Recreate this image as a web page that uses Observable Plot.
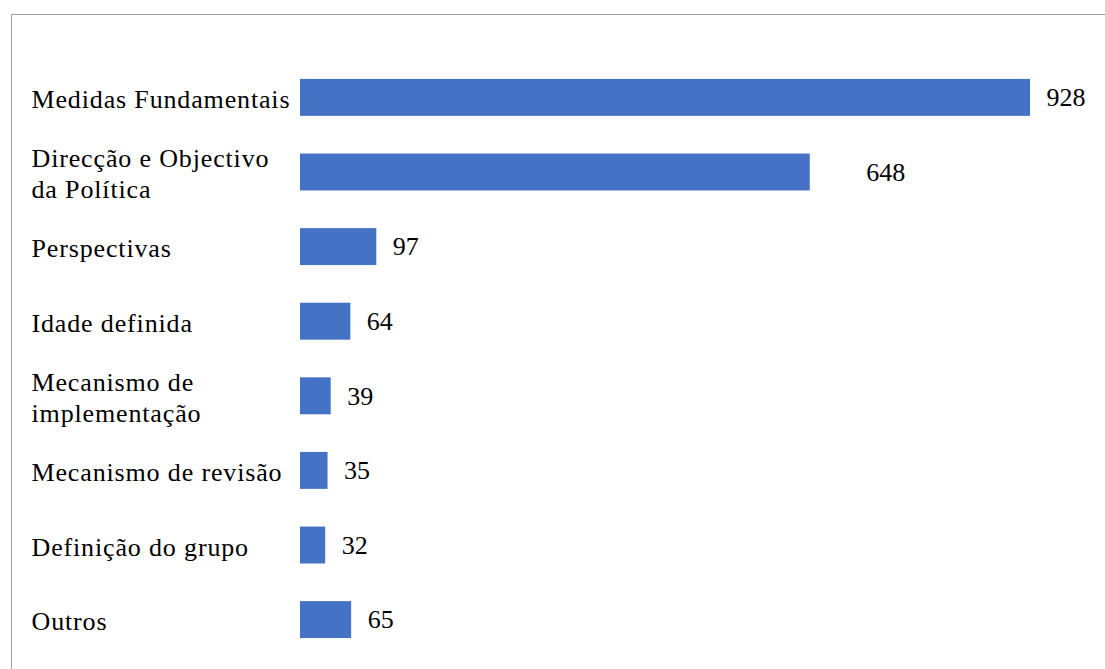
<!DOCTYPE html>
<html>
<head>
<meta charset="utf-8">
<script src="https://cdn.jsdelivr.net/npm/d3@7"></script>
<script src="https://cdn.jsdelivr.net/npm/@observablehq/plot@0.6"></script>
<style>
  html, body { margin: 0; padding: 0; background: #fff; }
  #wrap { position: relative; width: 1105px; height: 669px; overflow: hidden; }
  #frame { position: absolute; left: 11px; top: 14px; width: 1200px; height: 800px;
           border-left: 1px solid #a3a3a3; border-top: 1px solid #a3a3a3; }
  #chart { position: absolute; left: 0; top: 0; }
  #chart svg, #chart text { font-family: "Liberation Serif", "Times New Roman", serif !important; }
</style>
</head>
<body>
<div id="wrap"><div id="frame"></div><div id="chart"></div></div>
<script>
const categories = [
  "Medidas Fundamentais",
  "Direcção e Objectivo\nda Política",
  "Perspectivas",
  "Idade definida",
  "Mecanismo de\nimplementação",
  "Mecanismo de revisão",
  "Definição do grupo",
  "Outros"
];
const values = [928, 648, 97, 64, 39, 35, 32, 65];

const data = categories.map((c, i) => ({category: c, value: values[i]}));

const chart = Plot.plot({
  width: 1105,
  height: 669,
  marginLeft: 300,
  marginRight: 75,
  marginTop: 64,
  marginBottom: 16,
  style: {background: "transparent"},
  x: {domain: [0, 928], axis: null},
  y: {domain: categories, axis: null, padding: 0.505, paddingOuter: 0.2, round: false},
  marks: [
    Plot.barX(data, {y: "category", x: "value", fill: "#4472C4"}),
    Plot.text(data, {
      y: "category", text: "category", frameAnchor: "left", dx: -269,
      textAnchor: "start", fontSize: 26, fill: "#000", lineHeight: 1.22
    }),
    Plot.text(data.filter(d => d.value !== 648), {
      y: "category", x: "value", text: d => String(d.value), dx: 16,
      textAnchor: "start", fontSize: 26, fill: "#000"
    }),
    Plot.text(data.filter(d => d.value === 648), {
      y: "category", x: "value", text: d => String(d.value), dx: 56,
      textAnchor: "start", fontSize: 26, fill: "#000"
    })
  ]
});
// slightly wider letter spacing for the category labels, as in the reference
const textGroups = chart.querySelectorAll('g[aria-label="text"]');
if (textGroups.length) textGroups[0].style.letterSpacing = "0.85px";
document.getElementById("chart").appendChild(chart);
</script>
</body>
</html>
